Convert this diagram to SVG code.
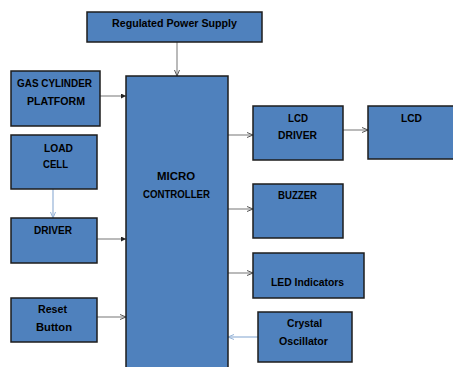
<svg xmlns="http://www.w3.org/2000/svg" width="453" height="367" viewBox="0 0 453 367">
<style>
.box{fill:#4f81bd;stroke:#1c1c1c;stroke-width:1.5}
.t{font-family:"Liberation Sans",Arial,sans-serif;font-weight:bold;font-size:10.5px;fill:#000;text-anchor:middle}
.c{fill:none;stroke:#8c8c8c;stroke-width:1.2}
.cb{fill:none;stroke:#95b3d7;stroke-width:1.2}
</style>
<defs>
<marker id="ag" viewBox="0 0 6 6" refX="6" refY="3" markerWidth="6" markerHeight="6" markerUnits="userSpaceOnUse" orient="auto"><path d="M0,0.5 L6,3 L0,5.5" fill="none" stroke="#555" stroke-width="1"/></marker>
<marker id="ad" viewBox="0 0 6 6" refX="6" refY="3" markerWidth="5" markerHeight="5" markerUnits="userSpaceOnUse" orient="auto"><path d="M0,0 L6,3 L0,6 Z" fill="#222"/></marker>
<marker id="ab" viewBox="0 0 6 6" refX="6" refY="3" markerWidth="6" markerHeight="6" markerUnits="userSpaceOnUse" orient="auto"><path d="M0,0.5 L6,3 L0,5.5" fill="none" stroke="#95b3d7" stroke-width="1"/></marker>
</defs>
<g id="connectors">
<line class="c" x1="177" y1="42" x2="177" y2="76" marker-end="url(#ag)"/>
<line class="c" x1="100" y1="96" x2="126" y2="96" marker-end="url(#ad)"/>
<line class="cb" x1="53" y1="189" x2="53" y2="218" marker-end="url(#ab)"/>
<line class="c" x1="97" y1="239" x2="126" y2="239" marker-end="url(#ad)"/>
<line class="c" x1="97" y1="317" x2="126" y2="317" marker-end="url(#ag)"/>
<line class="c" x1="228" y1="135" x2="253" y2="135" marker-end="url(#ag)"/>
<line class="c" x1="343" y1="130" x2="368" y2="130" marker-end="url(#ag)"/>
<line class="c" x1="228" y1="209" x2="253" y2="209" marker-end="url(#ag)"/>
<line class="c" x1="228" y1="273" x2="253" y2="273" marker-end="url(#ag)"/>
<line class="cb" x1="258" y1="337" x2="228" y2="337" marker-end="url(#ab)"/>
</g>
<g id="power">
<rect class="box" x="87" y="12" width="175" height="30"/>
<text class="t" x="174.5" y="27" textLength="125" lengthAdjust="spacingAndGlyphs">Regulated Power Supply</text>
</g>
<g id="gas">
<rect class="box" x="11" y="71" width="89" height="55"/>
<text class="t" x="54.5" y="87" textLength="75" lengthAdjust="spacingAndGlyphs">GAS CYLINDER</text>
<text class="t" x="56" y="105" textLength="58" lengthAdjust="spacingAndGlyphs">PLATFORM</text>
</g>
<g id="loadcell">
<rect class="box" x="11" y="135" width="86" height="54"/>
<text class="t" x="58.5" y="152" textLength="29" lengthAdjust="spacingAndGlyphs">LOAD</text>
<text class="t" x="55.5" y="168" textLength="25" lengthAdjust="spacingAndGlyphs">CELL</text>
</g>
<g id="driver">
<rect class="box" x="11" y="218" width="86" height="45"/>
<text class="t" x="53" y="234" textLength="38" lengthAdjust="spacingAndGlyphs">DRIVER</text>
</g>
<g id="reset">
<rect class="box" x="11" y="298" width="86" height="44"/>
<text class="t" x="52.5" y="313" textLength="29" lengthAdjust="spacingAndGlyphs">Reset</text>
<text class="t" x="54" y="331" textLength="36" lengthAdjust="spacingAndGlyphs">Button</text>
</g>
<g id="micro">
<rect class="box" x="126" y="76" width="102" height="300"/>
<text class="t" x="176" y="180" textLength="38" lengthAdjust="spacingAndGlyphs">MICRO</text>
<text class="t" x="176.5" y="198" textLength="67" lengthAdjust="spacingAndGlyphs">CONTROLLER</text>
</g>
<g id="lcddriver">
<rect class="box" x="253" y="106" width="90" height="54"/>
<text class="t" x="298" y="122" textLength="20" lengthAdjust="spacingAndGlyphs">LCD</text>
<text class="t" x="297.5" y="139" textLength="39" lengthAdjust="spacingAndGlyphs">DRIVER</text>
</g>
<g id="lcd">
<rect class="box" x="368" y="106" width="100" height="53"/>
<text class="t" x="411.5" y="122" textLength="21" lengthAdjust="spacingAndGlyphs">LCD</text>
</g>
<g id="buzzer">
<rect class="box" x="253" y="184" width="90" height="54"/>
<text class="t" x="297.5" y="199" textLength="39" lengthAdjust="spacingAndGlyphs">BUZZER</text>
</g>
<g id="led">
<rect class="box" x="253" y="253" width="111" height="45"/>
<text class="t" x="307.5" y="286" textLength="73" lengthAdjust="spacingAndGlyphs">LED Indicators</text>
</g>
<g id="crystal">
<rect class="box" x="258" y="312" width="94" height="50"/>
<text class="t" x="304.5" y="327" textLength="35" lengthAdjust="spacingAndGlyphs">Crystal</text>
<text class="t" x="303.5" y="345" textLength="49" lengthAdjust="spacingAndGlyphs">Oscillator</text>
</g>
</svg>
